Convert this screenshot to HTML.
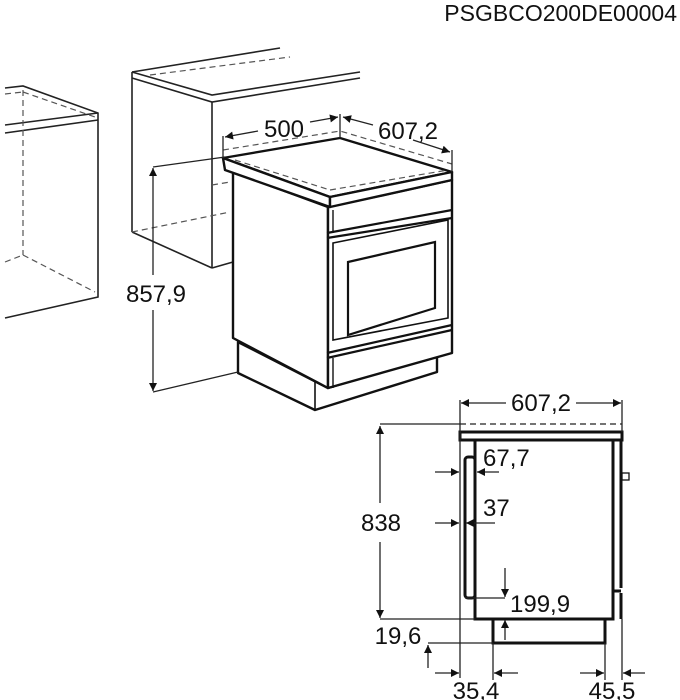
<!DOCTYPE html>
<html><head><meta charset="utf-8"><style>
html,body{margin:0;padding:0;background:#fff;}
svg{display:block;}
text{font-family:"Liberation Sans",sans-serif;fill:#111;}
</style></head><body>
<svg width="680" height="700" viewBox="0 0 680 700" xmlns="http://www.w3.org/2000/svg">
<defs>
<marker id="a" viewBox="0 0 10 10" refX="10" refY="5" markerWidth="10" markerHeight="8" orient="auto" markerUnits="userSpaceOnUse"><path d="M0,0 L10,5 L0,10 z" fill="#111"/></marker>
</defs>
<text x="677" y="21" font-size="23" text-anchor="end">PSGBCO200DE00004</text>

<g stroke="#222" fill="none" stroke-width="1.6">
<!-- left cabinet -->
<polyline points="5,88 23,86 98,113 98,297 5,318"/>
<line x1="5" y1="125" x2="98" y2="113"/>
<line x1="5" y1="133" x2="98" y2="120"/>
<g stroke-dasharray="6,4" stroke-width="1.2" stroke="#555">
<line x1="23" y1="90" x2="23" y2="255"/>
<line x1="5" y1="262" x2="23" y2="255"/>
<line x1="23" y1="255" x2="95" y2="292"/>
<line x1="5" y1="94" x2="23" y2="92"/>
<line x1="23" y1="92" x2="95" y2="117"/>
</g>
<!-- back cabinet -->
<line x1="132" y1="72" x2="280" y2="48"/>
<polyline points="132,72 212,95 360,72"/>
<polyline points="132,78 212,102 360,78"/>
<line x1="132" y1="72" x2="132" y2="78"/>
<line x1="132" y1="78" x2="132" y2="232"/>
<line x1="212" y1="102" x2="212" y2="268"/>
<line x1="132" y1="232" x2="212" y2="268"/>
<line x1="212" y1="268" x2="233" y2="262"/>
<g stroke-dasharray="6,4" stroke-width="1.2" stroke="#555">
<line x1="150" y1="75" x2="290" y2="57"/>
<line x1="132" y1="232" x2="230" y2="212"/>
<line x1="212" y1="185" x2="230" y2="182"/>
</g>
</g>

<!-- oven -->
<g stroke="#111" fill="#fff" stroke-width="2.4" stroke-linejoin="round">
<polygon points="238,342 238,373 315,410 437,372 437,355 328,388"/>
<polygon points="233,172 233,338 328,388 328,207"/>
<polygon points="328,207 452,180 452,353 328,388"/>
<polygon points="223,158 340,138 452,172 330,197"/>
<polygon points="223,158 330,197 330,207 225,170"/>
<polygon points="330,197 452,172 452,180 330,207"/>
</g>
<g stroke="#111" fill="none" stroke-width="2.2">
<line x1="327" y1="233" x2="452" y2="210"/>
<line x1="327" y1="238" x2="452" y2="218"/>
<polygon points="333,243 448,220 448,318 333,340" stroke-width="1.6"/>
<polygon points="348,262 435,242 435,308 348,335"/>
<line x1="327" y1="353" x2="452" y2="325"/>
<line x1="327" y1="358" x2="452" y2="330"/>
<line x1="333" y1="358" x2="333" y2="388" stroke-width="1.4"/>
<line x1="333" y1="210" x2="333" y2="233" stroke-width="1.4"/>
<line x1="315" y1="382" x2="315" y2="410" stroke-width="1.6"/>
</g>
<g stroke="#555" fill="none" stroke-width="1.2" stroke-dasharray="6,4">
<polyline points="223,150 340,131 452,164"/>
<line x1="235" y1="160" x2="330" y2="190"/>
<line x1="330" y1="190" x2="448" y2="170"/>
</g>
<!-- dims upper -->
<g stroke="#222" stroke-width="1.3" fill="none">
<line x1="223" y1="136" x2="223" y2="158"/>
<line x1="340" y1="114" x2="340" y2="138"/>
<line x1="452" y1="150" x2="452" y2="172"/>
<line x1="258" y1="131" x2="225" y2="137" marker-end="url(#a)"/>
<line x1="310" y1="122" x2="338" y2="117" marker-end="url(#a)"/>
<line x1="373" y1="125" x2="343" y2="117" marker-end="url(#a)"/>
<line x1="413" y1="140" x2="450" y2="152" marker-end="url(#a)"/>
<line x1="153" y1="275" x2="153" y2="168" marker-end="url(#a)"/>
<line x1="153" y1="310" x2="153" y2="391" marker-end="url(#a)"/>
<line x1="153" y1="167" x2="225" y2="157"/>
<line x1="153" y1="392" x2="238" y2="372"/>
</g>
<text x="284" y="137" font-size="24" text-anchor="middle">500</text>
<text x="408" y="139" font-size="24" text-anchor="middle">607,2</text>
<text x="156" y="302" font-size="24" text-anchor="middle">857,9</text>

<!-- side view -->
<g stroke="#111" fill="none" stroke-width="3">
<rect x="460" y="432" width="162" height="8"/>
<rect x="475" y="440" width="138" height="179"/>
<line x1="613" y1="440" x2="613" y2="619"/>
<line x1="621" y1="440" x2="621" y2="588"/>
<line x1="621" y1="593" x2="621" y2="619"/>
<line x1="613" y1="591" x2="621" y2="591"/>
<rect x="465" y="457" width="10" height="141" rx="3"/>
<rect x="493" y="619" width="112" height="24"/>
</g>
<rect x="622" y="473" width="7" height="7" stroke="#111" fill="none" stroke-width="1.3"/>
<g stroke="#222" stroke-width="1.3" fill="none">
<line x1="460" y1="400" x2="460" y2="678"/>
<line x1="622" y1="400" x2="622" y2="432"/>
<line x1="622" y1="619" x2="622" y2="680"/>
<line x1="605" y1="643" x2="605" y2="680"/>
<line x1="493" y1="643" x2="493" y2="680"/>
<line x1="460" y1="424" x2="622" y2="424" stroke-dasharray="6,4"/>
<line x1="506" y1="403" x2="461" y2="403" marker-end="url(#a)"/>
<line x1="576" y1="403" x2="621" y2="403" marker-end="url(#a)"/>
<line x1="380" y1="424" x2="460" y2="424"/>
<line x1="380" y1="619" x2="475" y2="619"/>
<line x1="380" y1="503" x2="380" y2="426" marker-end="url(#a)"/>
<line x1="380" y1="542" x2="380" y2="618" marker-end="url(#a)"/>
<line x1="435" y1="472" x2="459" y2="472" marker-end="url(#a)"/>
<line x1="499" y1="472" x2="477" y2="472" marker-end="url(#a)"/>
<line x1="435" y1="523" x2="459" y2="523" marker-end="url(#a)"/>
<line x1="495" y1="523" x2="466" y2="523" marker-end="url(#a)"/>
<line x1="505" y1="568" x2="505" y2="597" marker-end="url(#a)"/>
<line x1="465" y1="598" x2="505" y2="598"/>
<line x1="505" y1="640" x2="505" y2="620" marker-end="url(#a)"/>
<line x1="428" y1="643" x2="493" y2="643"/>
<line x1="428" y1="668" x2="428" y2="645" marker-end="url(#a)"/>
<line x1="435" y1="673" x2="459" y2="673" marker-end="url(#a)"/>
<line x1="518" y1="673" x2="494" y2="673" marker-end="url(#a)"/>
<line x1="580" y1="673" x2="604" y2="673" marker-end="url(#a)"/>
<line x1="645" y1="673" x2="623" y2="673" marker-end="url(#a)"/>
</g>
<text x="541" y="411" font-size="24" text-anchor="middle">607,2</text>
<text x="381" y="531" font-size="24" text-anchor="middle">838</text>
<text x="483" y="466" font-size="24">67,7</text>
<text x="483" y="516" font-size="24">37</text>
<text x="510" y="612" font-size="24">199,9</text>
<text x="398" y="644" font-size="24" text-anchor="middle">19,6</text>
<text x="476" y="699" font-size="24" text-anchor="middle">35,4</text>
<text x="612" y="699" font-size="24" text-anchor="middle">45,5</text>
</svg>
</body></html>
